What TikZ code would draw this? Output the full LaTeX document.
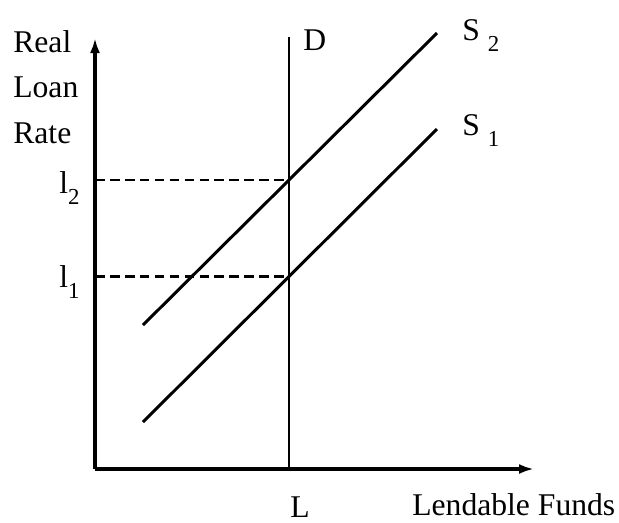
\documentclass[tikz,border=0pt]{standalone}
\usepackage{fontspec}
\setmainfont{Liberation Serif}
\usetikzlibrary{arrows.meta,positioning,calc}
\newcommand\lowidx[1]{\raisebox{-6.5pt}{\fontsize{13}{13}\selectfont #1}}

\begin{document}
\begin{tikzpicture}[
  x=0.02cm,y=-0.02cm,
  >={Latex[length=3mm,width=2mm]},
  ax/.style={->,line width=1.8pt},
  crv/.style={line width=1.7pt},
  dsh/.style={line width=1.4pt,dash pattern=on 5.5pt off 3pt},
  lbl/.style={anchor=base west,inner sep=0pt,font=\fontsize{18}{20}\selectfont}
]
\useasboundingbox (0,0) rectangle (619,522);

% axes
\coordinate (o) at (95,469);
\coordinate (ytip) at (95,38);
\coordinate (xtip) at (534,469);
\draw[ax] (o)--(ytip);
\draw[ax] (o)--(xtip);

% demand and the two supply curves
\coordinate (dtop) at (289,37);
\coordinate (dbot) at (289,469);
\coordinate (s1a) at (143,422);
\coordinate (s1b) at (437,129);
\coordinate (s2a) at (143,325);
\coordinate (s2b) at (437,33);
\draw[crv] (dbot)--(dtop);
\draw[crv] (s1a)--(s1b);
\draw[crv] (s2a)--(s2b);

\coordinate (e1) at (intersection of s1a--s1b and dbot--dtop);
\coordinate (e2) at (intersection of s2a--s2b and dbot--dtop);
\draw[dsh] (o|-e1)--(e1);
\draw[dsh] (o|-e2)--(e2);

% labels
\node[lbl] (real) at (13,52) {Real};
\node[lbl] (loan) at (13,97) {Loan};
\node[lbl] (rate) at (13,143) {Rate};
\node[lbl] (i2) at (59,193) {l\lowidx{2}};
\node[lbl] (i1) at (59,287) {l\lowidx{1}};
\node[lbl] (dlab) at (303,50) {D};
\node[lbl] (s2lab) at (462,40) {S \lowidx{2}};
\node[lbl] (s1lab) at (462,135) {S \lowidx{1}};
\node[lbl] (llab) at (290,517) {L};
\node[lbl] (funds) at (412,515) {Lendable Funds};
\end{tikzpicture}
\end{document}
